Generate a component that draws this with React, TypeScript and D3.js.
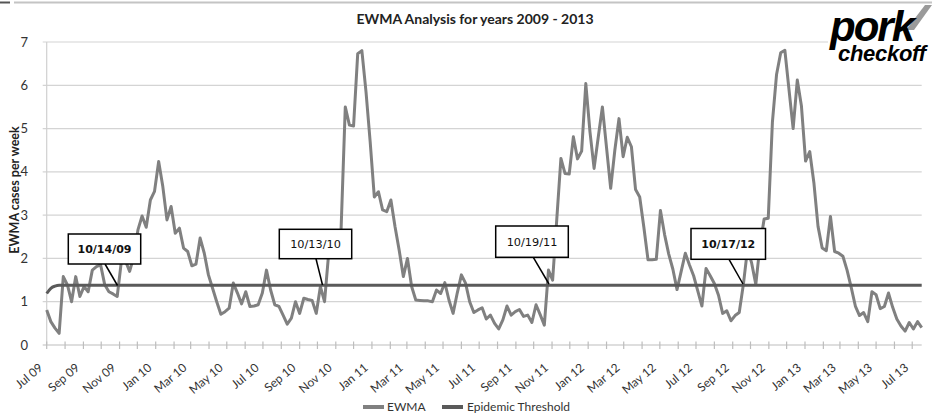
import React from "react";
import * as d3 from "d3";

// ---- data ----
const startDate = new Date(2009, 6, 1); // first weekly observation (Wednesday)
const ewma: number[] = [
  0.81, 0.54, 0.39, 0.27, 1.58, 1.39, 1.0, 1.58, 1.12, 1.35,
  1.23, 1.73, 1.81, 1.85, 1.39, 1.23, 1.18, 1.12, 1.93, 1.94,
  1.7, 2.04, 2.66, 2.98, 2.72, 3.35, 3.55, 4.24, 3.66, 2.89,
  3.2, 2.58, 2.7, 2.24, 2.16, 1.83, 1.87, 2.47, 2.12, 1.62,
  1.31, 1.0, 0.71, 0.77, 0.85, 1.43, 1.2, 0.95, 1.23, 0.89,
  0.9, 0.93, 1.2, 1.73, 1.27, 0.93, 0.89, 0.69, 0.48, 0.62,
  1.0, 0.73, 1.08, 1.05, 1.03, 0.73, 1.35, 1.0, 2.12, 2.08,
  2.08, 2.7, 5.5, 5.08, 5.06, 6.73, 6.8, 5.85, 4.7, 3.42,
  3.54, 3.12, 3.08, 3.35, 2.73, 2.19, 1.58, 2.0, 1.35, 1.04,
  1.03, 1.02, 1.02, 1.0, 1.27, 1.19, 1.44, 1.04, 0.73, 1.2,
  1.62, 1.43, 1.0, 0.75, 0.81, 0.86, 0.6, 0.69, 0.5, 0.37,
  0.58, 0.9, 0.69, 0.77, 0.82, 0.66, 0.69, 0.52, 0.93, 0.7,
  0.46, 1.73, 1.5, 2.9, 4.31, 3.96, 3.95, 4.81, 4.3, 4.48,
  6.04, 4.93, 4.08, 4.8, 5.5, 4.56, 3.62, 4.5, 5.23, 4.35,
  4.8, 4.58, 3.59, 3.42, 2.72, 1.97, 1.97, 1.98, 3.11, 2.55,
  2.1, 1.75, 1.28, 1.7, 2.12, 1.85, 1.6, 1.25, 0.9, 1.77,
  1.6, 1.42, 1.15, 0.73, 0.79, 0.56, 0.68, 0.75, 1.4, 2.22,
  1.89, 1.4, 2.3, 2.91, 2.93, 5.15, 6.25, 6.75, 6.81, 5.9,
  5.0, 6.12, 5.52, 4.25, 4.47, 3.75, 2.74, 2.24, 2.18, 2.97,
  2.16, 2.12, 2.05, 1.73, 1.33, 0.9, 0.68, 0.75, 0.54, 1.23,
  1.16, 0.84, 0.89, 1.2, 0.87, 0.6, 0.44, 0.32, 0.52, 0.37,
  0.54, 0.4,
];
const thresholdRamp: number[] = [1.19, 1.31, 1.36];
const thresholdLevel = 1.38;
const yTicks: number[] = [0, 1, 2, 3, 4, 5, 6, 7];
const xTickLabels: string[] = [
  "Jul 09", "Sep 09", "Nov 09", "Jan 10", "Mar 10", "May 10", "Jul 10", "Sep 10", "Nov 10",
  "Jan 11", "Mar 11", "May 11", "Jul 11", "Sep 11", "Nov 11", "Jan 12", "Mar 12", "May 12",
  "Jul 12", "Sep 12", "Nov 12", "Jan 13", "Mar 13", "May 13", "Jul 13",
];
const calloutLabels: string[] = ["10/14/09", "10/13/10", "10/19/11", "10/17/12"];
const calloutBold: boolean[] = [true, false, false, true];
const seriesNames: string[] = ["EWMA", "Epidemic Threshold"];
const title = "EWMA Analysis for years 2009 - 2013";
const yTitle = "EWMA cases per week";

// ---- layout ----
const W = 932;
const H = 417;
const plotL = 46.7;
const plotR = 921.7;
const plotT = 42;
const plotB = 345;
const FONT = "Lato, 'Open Sans', sans-serif";
const EWMA_COLOR = "#808080";
const THR_COLOR = "#5a5a5a";

// callout box geometry [x, y, w, h, pointerStartX, pointerEndX, pointerEndY]
const calloutGeom = [
  [68.3, 234, 72.4, 30, 105, 117.5, 285.5],
  [279.3, 229.3, 72.4, 29.4, 316, 322.5, 285],
  [495.7, 226, 72.6, 31.3, 533.3, 549, 284],
  [691, 228.5, 74.5, 30.8, 729, 743, 284],
];

export default function App() {
  const dates = ewma.map((_, i) => d3.timeDay.offset(startDate, i * 7));
  const endDate = dates[dates.length - 1];
  const x = d3.scaleTime().domain([startDate, endDate]).range([plotL, plotR]);
  const y = d3.scaleLinear().domain([0, 7]).range([plotB, plotT]);

  const ewmaPts = ewma.map((v, i) => [dates[i], v] as [Date, number]);
  const thrPts = dates.map(
    (d, i) => [d, i < thresholdRamp.length ? thresholdRamp[i] : thresholdLevel] as [Date, number]
  );
  const line = d3
    .line<[Date, number]>()
    .x((d) => x(d[0]))
    .y((d) => y(d[1]));
  const thrLine = d3
    .line<[Date, number]>()
    .curve(d3.curveMonotoneX)
    .x((d) => x(d[0]))
    .y((d) => y(d[1]));

  const monthTicks = d3.timeMonth.range(startDate, d3.timeDay.offset(endDate, 1));
  const labelTicks = d3.timeMonth.every(2)!.range(startDate, d3.timeDay.offset(endDate, 1));

  return (
    <svg
      width={W}
      height={H}
      style={{ position: "absolute", left: 0, top: 0, background: "#fff" }}
      fontFamily={FONT}
    >
      <rect x={0} y={0} width={W} height={H} fill="#fff" />
      {/* frame remnants */}
      <line x1={14} x2={W} y1={2.5} y2={2.5} stroke="#c4c4c4" strokeWidth={2} />
      <line x1={0} x2={10} y1={2.5} y2={2.5} stroke="#555" strokeWidth={2} />

      {/* title */}
      <text x={475} y={24} textAnchor="middle" fontSize={14} fontWeight="bold" fill="#222">
        {title}
      </text>

      {/* gridlines */}
      {yTicks.map((t) => (
        <line
          key={"g" + t}
          x1={plotL - 4}
          x2={plotR}
          y1={y(t)}
          y2={y(t)}
          stroke={t === 0 ? "#bdbdbd" : "#d4d4d4"}
          strokeWidth={1.2}
        />
      ))}
      <line x1={plotL} x2={plotL} y1={plotT} y2={plotB} stroke="#d0d0d0" strokeWidth={1.2} />

      {/* y tick labels */}
      {yTicks.map((t) => (
        <text key={"yl" + t} x={28} y={y(t)} dy="0.35em" textAnchor="end" fontSize={13} fill="#333">
          {t}
        </text>
      ))}
      <text
        transform={`translate(15,190) rotate(-90)`}
        dy="0.35em"
        textAnchor="middle"
        fontSize={12.5}
        fontWeight="bold"
        fill="#222"
      >
        {yTitle}
      </text>

      {/* x ticks */}
      {monthTicks.map((d, i) => (
        <line key={"xt" + i} x1={x(d)} x2={x(d)} y1={plotB - 3.5} y2={plotB + 4} stroke="#bdbdbd" strokeWidth={1.2} />
      ))}
      {labelTicks.map((d, i) => (
        <text
          key={"xl" + i}
          transform={`translate(${x(d) - 3},${plotB + 24}) rotate(-40)`}
          textAnchor="end"
          fontSize={12}
          fill="#333"
        >
          {xTickLabels[i]}
        </text>
      ))}

      {/* series */}
      <path d={line(ewmaPts) || ""} fill="none" stroke={EWMA_COLOR} strokeWidth={3} strokeLinejoin="round" />
      <path d={thrLine(thrPts) || ""} fill="none" stroke={THR_COLOR} strokeWidth={3} />

      {/* callouts */}
      {calloutGeom.map((g, i) => {
        const [bx, by, bw, bh, px0, px1, py1] = g;
        return (
          <g key={"c" + i}>
            <line x1={px0} y1={by + bh} x2={px1} y2={py1} stroke="#000" strokeWidth={1.5} />
            <rect x={bx} y={by} width={bw} height={bh} fill="#fff" stroke="#000" strokeWidth={1.5} />
            <text
              x={bx + bw / 2}
              y={by + bh / 2}
              dy="0.36em"
              textAnchor="middle"
              fontFamily="'DejaVu Sans', Verdana, sans-serif"
              fontSize={calloutBold[i] ? 11 : 11.3}
              fontWeight={calloutBold[i] ? "bold" : "normal"}
              fill="#111"
            >
              {calloutLabels[i]}
            </text>
          </g>
        );
      })}

      {/* logo */}
      <rect x={828} y={8} width={104} height={56} fill="#fff" />
      <path d="M906,30 L925,5 L932,5 L914,30 Z" fill="#9a9a9a" />
      <text
        x={830}
        y={41}
        fontFamily="'Liberation Sans', Arial, sans-serif"
        fontSize={42}
        fontWeight="bold"
        fontStyle="italic"
        letterSpacing={-2}
        fill="#000"
      >
        pork
      </text>
      <text
        x={838}
        y={61}
        fontFamily="'Liberation Sans', Arial, sans-serif"
        fontSize={22}
        fontWeight="bold"
        fontStyle="italic"
        letterSpacing={-0.3}
        fill="#000"
      >
        checkoff
      </text>

      {/* legend */}
      <line x1={363} x2={384} y1={407} y2={407} stroke={EWMA_COLOR} strokeWidth={4} />
      <text x={387} y={407} dy="0.35em" fontSize={12} fill="#333">
        {seriesNames[0]}
      </text>
      <line x1={442} x2={463} y1={407} y2={407} stroke={THR_COLOR} strokeWidth={4} />
      <text x={467} y={407} dy="0.35em" fontSize={12} fill="#333">
        {seriesNames[1]}
      </text>
    </svg>
  );
}
